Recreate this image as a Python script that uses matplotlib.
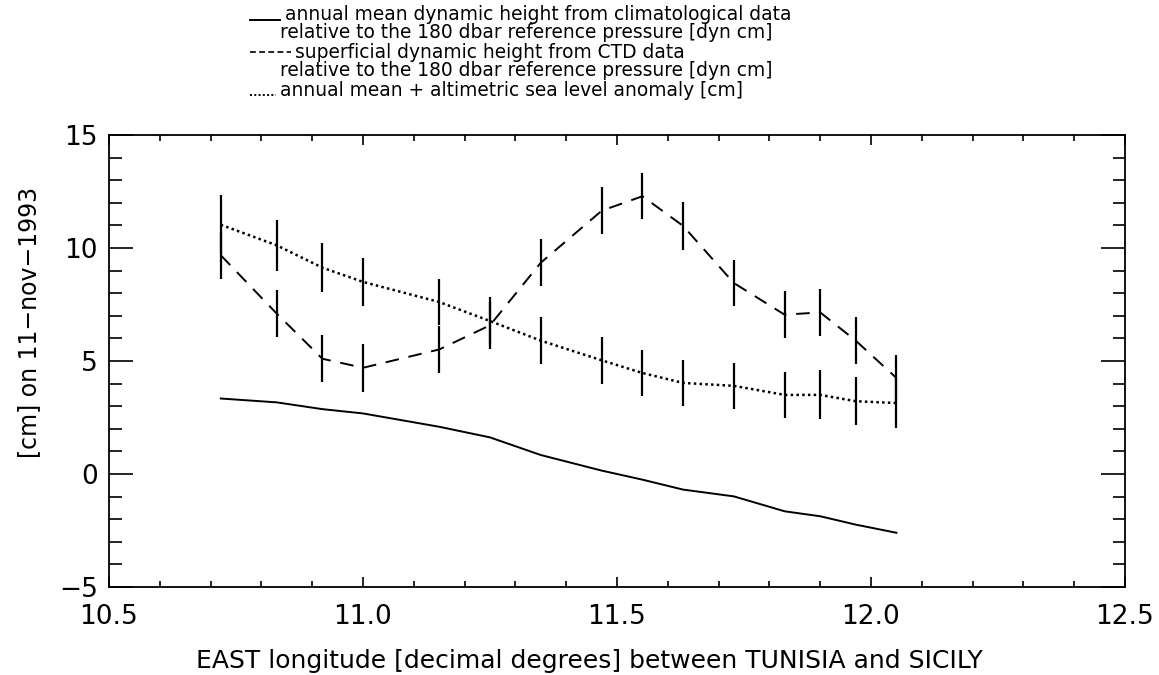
import matplotlib
matplotlib.use("Agg")
import matplotlib.pyplot as plt
from matplotlib.lines import Line2D
from matplotlib.ticker import MultipleLocator

# station longitudes
lon = [10.72, 10.83, 10.92, 11.00, 11.15, 11.25, 11.35, 11.47,
       11.55, 11.63, 11.73, 11.83, 11.90, 11.97, 12.05]

# annual mean dynamic height (climatology)
clim = [3.34, 3.17, 2.87, 2.68, 2.09, 1.62, 0.84, 0.15,
        -0.25, -0.69, -0.99, -1.65, -1.87, -2.24, -2.60]

# superficial dynamic height from CTD
ctd = [9.68, 7.10, 5.10, 4.70, 5.51, 6.58, 9.35, 11.65,
       12.29, 10.98, 8.45, 7.05, 7.15, 5.90, 4.25]
ctd_err = [1.05, 1.05, 1.05, 1.05, 1.06, 1.03, 1.05, 1.03,
           1.02, 1.05, 1.03, 1.03, 1.03, 1.03, 1.00]

# annual mean + altimetric sea level anomaly
alti = [11.03, 10.12, 9.13, 8.50, 7.61, 6.77, 5.90, 5.03,
        4.47, 4.03, 3.90, 3.50, 3.50, 3.22, 3.14]
alti_err = [1.30, 1.12, 1.07, 1.05, 1.00, 1.07, 1.05, 1.03,
            1.03, 1.03, 1.03, 1.03, 1.08, 1.06, 1.10]

legend_lines = [
    "annual mean dynamic height from climatological data",
    "relative to the 180 dbar reference pressure [dyn cm]",
    "superficial dynamic height from CTD data",
    "relative to the 180 dbar reference pressure [dyn cm]",
    "annual mean + altimetric sea level anomaly [cm]",
]

W, H = 1159, 675
fig = plt.figure(figsize=(W / 100, H / 100), dpi=100)
ax = fig.add_axes([109 / W, 1 - 587 / H, (1125 - 109) / W, (587 - 135) / H])

ax.plot(lon, clim, color="black", lw=1.4, linestyle="-")
ax.plot(lon, ctd, color="black", lw=1.4, linestyle=(0, (7, 5)))
ax.plot(lon, alti, color="black", lw=1.8, linestyle=(0, (1, 1.3)))
ax.errorbar(lon, ctd, yerr=ctd_err, fmt="none", ecolor="black", elinewidth=1.6, capsize=0)
ax.errorbar(lon, alti, yerr=alti_err, fmt="none", ecolor="black", elinewidth=1.6, capsize=0)

ax.set_xlim(10.5, 12.5)
ax.set_ylim(-5, 15)
ax.xaxis.set_major_locator(MultipleLocator(0.5))
ax.xaxis.set_minor_locator(MultipleLocator(0.1))
ax.yaxis.set_major_locator(MultipleLocator(5))
ax.yaxis.set_minor_locator(MultipleLocator(1))
ax.xaxis.set_major_formatter(matplotlib.ticker.FormatStrFormatter("%.1f"))
ax.yaxis.set_major_formatter(matplotlib.ticker.FuncFormatter(
    lambda v, p: ("\u2212%d" % -v) if v < 0 else "%d" % v))

ax.tick_params(axis="both", which="both", direction="in", top=True, right=True,
               width=1.2, labelsize=19, colors="black")
ax.tick_params(axis="x", which="major", length=7, pad=12)
ax.tick_params(axis="x", which="minor", length=4)
ax.tick_params(axis="y", which="major", length=17, pad=8)
ax.tick_params(axis="y", which="minor", length=9)
for s in ax.spines.values():
    s.set_linewidth(1.3)

ax.set_xlabel("EAST longitude [decimal degrees] between TUNISIA and SICILY", fontsize=18)
ax.xaxis.set_label_coords(0.473, -0.137)
ax.set_ylabel("[cm] on 11\u2212nov\u22121993", fontsize=17)
ax.yaxis.set_label_coords(-0.067, 0.586)

# legend block above the plot, drawn as text with sample strokes
ys = [14, 33, 52, 71, 90]
xs = [285, 280, 295, 280, 280]
for y, x, t in zip(ys, xs, legend_lines):
    fig.text(x / W, 1 - y / H, t, fontsize=13.4, va="center", ha="left")
fig.add_artist(Line2D([250 / W, 280 / W], [1 - 20 / H] * 2, color="black", lw=1.4))
fig.add_artist(Line2D([250 / W, 291 / W], [1 - 52 / H] * 2, color="black", lw=1.2,
                      linestyle=(0, (3.5, 2))))
fig.add_artist(Line2D([250 / W, 276 / W], [1 - 95 / H] * 2, color="black", lw=1.4,
                      linestyle=(0, (1, 1.2))))

fig.savefig("out.png", dpi=100)
